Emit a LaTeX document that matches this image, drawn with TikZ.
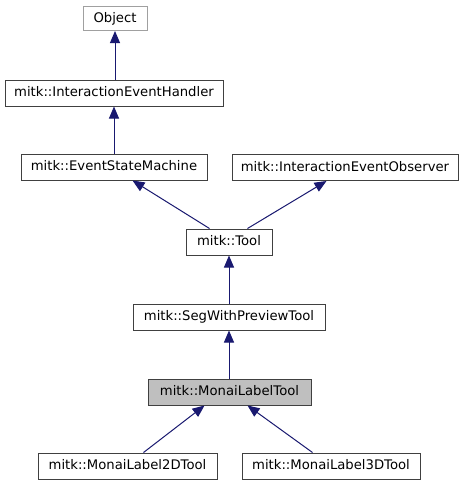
\documentclass[tikz,border=0pt]{standalone}
\usepackage{fontspec}
\setmainfont{DejaVu Sans}
\usetikzlibrary{arrows.meta,calc}
\definecolor{edgeblue}{HTML}{191970}
\definecolor{boxline}{HTML}{404040}
\definecolor{objline}{HTML}{A0A0A0}
\definecolor{curfill}{HTML}{BFBFBF}
\begin{document}
\begin{tikzpicture}[x=1pt,y=-1pt,
  cls/.style={draw=boxline,line width=1pt,fill=white,rectangle,inner sep=0pt,
    minimum height=26pt,font=\fontsize{13.2}{15}\selectfont,text height=9.5pt,text depth=2.5pt},
  edge/.style={draw=edgeblue,line width=1pt,-{Triangle[length=12pt,width=10pt]}}]
\useasboundingbox (0,0) rectangle (464,485);
\fill[white] (0,0) rectangle (464,485);
\node[cls,draw=objline,minimum width=64pt,minimum height=24pt] (obj) at (115,18.5) {Object};
\node[cls,minimum width=218pt] (hdl) at (114,93) {mitk::InteractionEventHandler};
\node[cls,minimum width=186pt] (esm) at (114,167) {mitk::EventStateMachine};
\node[cls,minimum width=226pt] (obs) at (345,167.5) {mitk::InteractionEventObserver};
\node[cls,minimum width=86pt] (tool) at (229,242) {mitk::Tool};
\node[cls,minimum width=192pt] (seg) at (229,317) {mitk::SegWithPreviewTool};
\node[cls,minimum width=163pt,fill=curfill] (mlt) at (229.5,392) {mitk::MonaiLabelTool};
\node[cls,minimum width=179pt] (d2) at (127.5,466) {mitk::MonaiLabel2DTool};
\node[cls,minimum width=178pt] (d3) at (331,466) {mitk::MonaiLabel3DTool};
\draw[edge] (hdl.north -| obj.south) -- (obj.south);
\draw[edge] (esm.north) -- (hdl.south);
\draw[edge] ($(tool.north west)+(24,0)$) -- ($(esm.south west)+(112,0)$);
\draw[edge] ($(tool.north west)+(62,0)$) -- ($(obs.south west)+(95,0)$);
\draw[edge] (seg.north) -- (tool.south);
\draw[edge] (mlt.north -| seg.south) -- (seg.south);
\draw[edge] ($(d2.north west)+(106,0)$) -- ($(mlt.south west)+(57,0)$);
\draw[edge] ($(d3.north west)+(71,0)$) -- ($(mlt.south west)+(100,0)$);
\end{tikzpicture}
\end{document}
